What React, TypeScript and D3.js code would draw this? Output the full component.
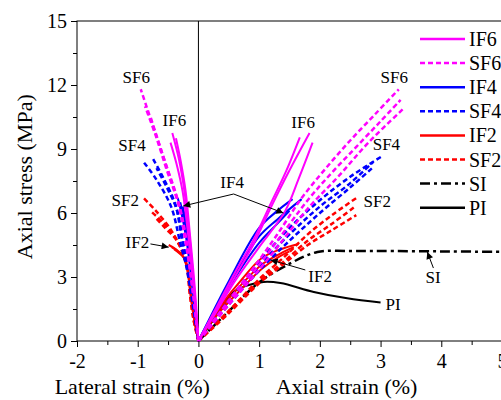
import React, { useEffect, useRef } from "react";
import * as d3 from "d3";

type Pt = [number, number];

// strain (%) vs axial stress (MPa); negative strain = lateral
const IF6_lateral: Pt[][] = [
  [[0, 0], [-0.07, 2.5], [-0.15, 5], [-0.23, 7], [-0.32, 8.5], [-0.43, 9.75]],
  [[0, 0], [-0.08, 2.5], [-0.17, 5], [-0.26, 7], [-0.36, 8.3], [-0.46, 9.3]],
  [[0, 0], [-0.06, 2.5], [-0.14, 5], [-0.21, 7], [-0.29, 8.4], [-0.37, 9.5]],
];
const IF6_axial: Pt[][] = [
  [[0, 0], [0.3, 1.6], [0.6, 3.2], [0.9, 4.7], [1.2, 6.5], [1.45, 8.0], [1.67, 9.55]],
  [[0, 0], [0.3, 1.5], [0.6, 3.0], [0.9, 4.5], [1.2, 6.3], [1.5, 8.0], [1.83, 9.75]],
  [[0, 0], [0.3, 1.4], [0.6, 2.8], [1.0, 4.4], [1.43, 6.1], [1.65, 7.6], [1.88, 9.3]],
];
const SF6_lateral: Pt[][] = [
  [[0, 0], [-0.1, 2.5], [-0.2, 4.6], [-0.34, 6.6], [-0.55, 8.4], [-0.75, 10.1], [-0.95, 11.8]],
  [[0, 0], [-0.1, 2.5], [-0.21, 4.6], [-0.33, 6.4], [-0.52, 8.0], [-0.7, 9.6], [-0.88, 11.0]],
  [[0, 0], [-0.09, 2.5], [-0.19, 4.6], [-0.3, 6.2], [-0.47, 7.7], [-0.63, 9.1], [-0.8, 10.6]],
];
const SF6_axial: Pt[][] = [
  [[0, 0], [0.5, 1.9], [0.9, 3.4], [1.3, 5.0], [1.7, 6.7], [2.1, 8.1], [2.5, 9.4], [2.9, 10.6], [3.3, 11.8]],
  [[0, 0], [0.5, 1.8], [0.9, 3.2], [1.3, 4.7], [1.8, 6.6], [2.2, 7.9], [2.6, 9.1], [3.0, 10.3], [3.33, 11.3]],
  [[0, 0], [0.5, 1.7], [0.9, 3.0], [1.3, 4.4], [1.8, 6.2], [2.3, 7.7], [2.8, 9.3], [3.38, 10.9]],
];
const IF4_lateral: Pt[][] = [
  [[0, 0], [-0.1, 2.5], [-0.2, 4.8], [-0.28, 6.0], [-0.34, 6.7]],
  [[0, 0], [-0.09, 2.5], [-0.18, 4.8], [-0.25, 5.9], [-0.3, 6.5]],
  [[0, 0], [-0.08, 2.5], [-0.16, 4.8], [-0.22, 5.8], [-0.26, 6.3]],
];
const IF4_axial: Pt[][] = [
  [[0, 0], [0.5, 2.8], [1.0, 5.3], [1.3, 6.1], [1.55, 6.65]],
  [[0, 0], [0.5, 2.6], [1.0, 4.9], [1.3, 5.7], [1.7, 6.65]],
  [[0, 0], [0.5, 2.5], [1.0, 4.6], [1.3, 5.5], [1.5, 6.1]],
];
const SF4_lateral: Pt[][] = [
  [[0, 0], [-0.1, 1.8], [-0.2, 3.5], [-0.3, 4.6], [-0.45, 6.3], [-0.7, 7.6], [-0.92, 8.45]],
  [[0, 0], [-0.09, 1.8], [-0.18, 3.5], [-0.27, 4.7], [-0.38, 6.4], [-0.57, 7.6], [-0.76, 8.6]],
  [[0, 0], [-0.08, 1.8], [-0.17, 3.5], [-0.25, 4.6], [-0.35, 6.1], [-0.52, 7.2], [-0.69, 8.1]],
];
const SF4_axial: Pt[][] = [
  [[0, 0], [0.5, 1.9], [1.0, 3.7], [1.5, 5.3], [2.0, 6.6], [2.5, 7.7], [3.03, 8.67]],
  [[0, 0], [0.5, 1.8], [1.0, 3.5], [1.5, 5.0], [2.0, 6.3], [2.5, 7.4], [2.88, 8.4]],
  [[0, 0], [0.5, 1.7], [1.0, 3.3], [1.5, 4.7], [2.0, 6.0], [2.5, 7.2], [2.86, 8.1]],
];
const IF2_lateral: Pt[][] = [
  [[0, 0], [-0.07, 1], [-0.13, 2.2], [-0.18, 3.3], [-0.25, 3.95], [-0.37, 4.3], [-0.49, 4.5]],
  [[0, 0], [-0.07, 1], [-0.13, 2.2], [-0.18, 3.3], [-0.24, 3.9], [-0.34, 4.2], [-0.44, 4.4]],
  [[0, 0], [-0.06, 1], [-0.12, 2.2], [-0.17, 3.3], [-0.22, 3.85], [-0.31, 4.1], [-0.4, 4.3]],
];
const IF2_axial: Pt[][] = [
  [[0, 0], [0.3, 1.4], [0.66, 2.7], [1.05, 3.9], [1.35, 4.3], [1.65, 4.55]],
  [[0, 0], [0.3, 1.3], [0.66, 2.5], [1.05, 3.6], [1.35, 4.1], [1.57, 4.4]],
  [[0, 0], [0.3, 1.2], [0.66, 2.3], [1.05, 3.4], [1.3, 3.9], [1.5, 4.2]],
];
const SF2_lateral: Pt[][] = [
  [[0, 0], [-0.08, 1], [-0.14, 2.2], [-0.2, 3.6], [-0.3, 4.4], [-0.45, 5.2], [-0.7, 6.1], [-0.92, 6.75]],
  [[0, 0], [-0.08, 1], [-0.14, 2.2], [-0.19, 3.5], [-0.28, 4.3], [-0.42, 5.0], [-0.6, 5.6], [-0.79, 6.1]],
  [[0, 0], [-0.07, 1], [-0.13, 2.2], [-0.18, 3.4], [-0.26, 4.2], [-0.38, 4.8], [-0.55, 5.3], [-0.71, 5.8]],
];
const SF2_axial: Pt[][] = [
  [[0, 0], [0.5, 1.4], [1.0, 2.9], [1.4, 3.9], [1.8, 5.0], [2.2, 5.9], [2.6, 6.7]],
  [[0, 0], [0.5, 1.4], [1.0, 2.8], [1.4, 3.7], [1.8, 4.7], [2.2, 5.5], [2.58, 6.3]],
  [[0, 0], [0.5, 1.3], [1.0, 2.7], [1.4, 3.6], [1.8, 4.5], [2.2, 5.2], [2.6, 5.9]],
];
const SI_axial: Pt[][] = [
  [[0, 0], [0.5, 1.4], [1.0, 2.75], [1.52, 3.65], [1.96, 4.17], [2.5, 4.22], [3.0, 4.22], [4.0, 4.2], [5.0, 4.18]],
];
const PI_axial: Pt[][] = [
  [[0, 0], [0.3, 1.2], [0.58, 2.3], [0.8, 2.6], [1.07, 2.77], [1.35, 2.72], [1.9, 2.3], [2.45, 2.0], [3.0, 1.8]],
];

const xTicks = [-2, -1, 0, 1, 2, 3, 4, 5];
const yTicks = [0, 3, 6, 9, 12, 15];

const MAG = "#ff00ff", BLUE = "#0000ff", RED = "#ff0000", BLACK = "#000000";

const series = [
  { name: "IF6", color: MAG, dash: null, curves: [...IF6_lateral, ...IF6_axial] },
  { name: "SF6", color: MAG, dash: "5,3", curves: [...SF6_lateral, ...SF6_axial] },
  { name: "IF4", color: BLUE, dash: null, curves: [...IF4_lateral, ...IF4_axial] },
  { name: "SF4", color: BLUE, dash: "5,3", curves: [...SF4_lateral, ...SF4_axial] },
  { name: "IF2", color: RED, dash: null, curves: [...IF2_lateral, ...IF2_axial] },
  { name: "SF2", color: RED, dash: "5,3", curves: [...SF2_lateral, ...SF2_axial] },
  { name: "SI", color: BLACK, dash: "10,4,3,4", curves: SI_axial },
  { name: "PI", color: BLACK, dash: null, curves: PI_axial },
];
const drawOrder = ["PI", "SI", "SF2", "IF2", "SF4", "IF4", "SF6", "IF6"];

// text labels: [text, strain, stress] at text start / baseline
const labels: [string, number, number][] = [
  ["SF6", -1.25, 12.1], ["IF6", -0.59, 10.08], ["SF4", -1.32, 8.9], ["SF2", -1.43, 6.33],
  ["IF2", -1.2, 4.36], ["IF4", 0.36, 7.17], ["IF6", 1.53, 9.99], ["SF6", 3.0, 12.1],
  ["SF4", 2.87, 8.95], ["SF2", 2.72, 6.28], ["IF2", 1.81, 2.77], ["SI", 3.74, 2.72], ["PI", 3.08, 1.45],
];
// arrows: polyline points, last point gets the head
const arrows: Pt[][] = [
  [[-0.79, 4.55], [-0.49, 4.4]],
  [[0.58, 6.89], [-0.25, 6.33]],
  [[0.58, 6.89], [1.4, 6.0]],
  [[1.76, 3.33], [1.19, 3.8]],
  [[3.87, 3.42], [3.77, 4.17]],
];

const W = 501, H = 400;
const margin = { top: 21, right: -1, bottom: 59, left: 77 };
const FONT = "'Liberation Serif', 'Times New Roman', serif";

export default function App() {
  const ref = useRef<SVGSVGElement>(null);

  useEffect(() => {
    const svg = d3.select(ref.current);
    svg.selectAll("*").remove();

    const x = d3.scaleLinear().domain([-2, 5]).range([margin.left, W - margin.right]);
    const y = d3.scaleLinear().domain([0, 15]).range([H - margin.bottom, margin.top]);

    const defs = svg.append("defs");
    defs.append("marker")
      .attr("id", "head")
      .attr("viewBox", "0 0 10 10")
      .attr("refX", 10).attr("refY", 5)
      .attr("markerWidth", 9).attr("markerHeight", 7)
      .attr("markerUnits", "userSpaceOnUse")
      .attr("orient", "auto")
      .append("path").attr("d", "M0,0 L10,5 L0,10 Z").attr("fill", "#000");

    // frame
    svg.append("rect")
      .attr("x", x(-2)).attr("y", y(15))
      .attr("width", x(5) - x(-2)).attr("height", y(0) - y(15))
      .attr("fill", "none").attr("stroke", "#000").attr("stroke-width", 1);

    // zero line
    svg.append("line")
      .attr("x1", x(0)).attr("x2", x(0)).attr("y1", y(0)).attr("y2", y(15))
      .attr("stroke", "#000").attr("stroke-width", 1);

    const line = d3.line<Pt>()
      .x(d => x(d[0])).y(d => y(d[1]))
      .curve(d3.curveCatmullRom.alpha(0.5));

    const plot = svg.append("g");
    drawOrder.forEach(name => {
      const s = series.find(d => d.name === name)!;
      s.curves.forEach(c => {
        plot.append("path")
          .attr("d", line(c))
          .attr("fill", "none")
          .attr("stroke", s.color)
          .attr("stroke-width", s.dash ? 2.5 : 2)
          .attr("stroke-dasharray", s.dash ?? null);
      });
    });

    // axes
    const xAxis = svg.append("g").attr("transform", `translate(0,${y(0)})`)
      .call(d3.axisBottom(x).tickValues(xTicks).tickSize(6).tickPadding(7).tickFormat(d => String(d)));
    svg.append("g").attr("transform", `translate(0,${y(0)})`)
      .call(d3.axisBottom(x).tickValues(d3.range(-1.5, 5, 1)).tickSize(4).tickFormat(() => ""));
    const yAxis = svg.append("g").attr("transform", `translate(${x(-2)},0)`)
      .call(d3.axisLeft(y).tickValues(yTicks).tickSize(6).tickPadding(4).tickFormat(d => String(d)));
    svg.append("g").attr("transform", `translate(${x(-2)},0)`)
      .call(d3.axisLeft(y).tickValues(d3.range(1.5, 15, 3)).tickSize(4).tickFormat(() => ""));
    svg.selectAll(".domain").remove();
    [xAxis, yAxis].forEach(a => {
      a.attr("font-family", FONT).attr("font-size", 20);
      a.selectAll("text").attr("font-family", FONT).attr("font-size", 20).attr("fill", "#000");
    });
    svg.selectAll(".tick line").attr("stroke", "#000");

    // axis titles
    svg.append("text").attr("x", x(-1.09)).attr("y", 394)
      .attr("text-anchor", "middle").attr("font-family", FONT).attr("font-size", 22)
      .text("Lateral strain (%)");
    svg.append("text").attr("x", x(2.44)).attr("y", 394)
      .attr("text-anchor", "middle").attr("font-family", FONT).attr("font-size", 22)
      .text("Axial strain (%)");
    svg.append("text")
      .attr("transform", `translate(32,${y(7.7)}) rotate(-90)`)
      .attr("text-anchor", "middle").attr("font-family", FONT).attr("font-size", 22)
      .text("Axial stress (MPa)");

    // annotations
    labels.forEach(([t, sx, sy]) => {
      svg.append("text").attr("x", x(sx)).attr("y", y(sy))
        .attr("font-family", FONT).attr("font-size", 17).text(t);
    });
    arrows.forEach(a => {
      svg.append("path")
        .attr("d", d3.line<Pt>().x(d => x(d[0])).y(d => y(d[1]))(a))
        .attr("fill", "none").attr("stroke", "#000").attr("stroke-width", 1)
        .attr("marker-end", "url(#head)");
    });

    // legend
    const lg = svg.append("g");
    series.forEach((s, i) => {
      const ly = 39 + i * 24.1;
      lg.append("line").attr("x1", 420).attr("x2", 465).attr("y1", ly).attr("y2", ly)
        .attr("stroke", s.color).attr("stroke-width", 2.5)
        .attr("stroke-dasharray", s.dash ?? null);
      lg.append("text").attr("x", 469).attr("y", ly + 7)
        .attr("font-family", FONT).attr("font-size", 20).text(s.name);
    });
  }, []);

  return (
    <svg ref={ref} width={W} height={H}
      style={{ position: "absolute", left: 0, top: 0, background: "#fff" }} />
  );
}
